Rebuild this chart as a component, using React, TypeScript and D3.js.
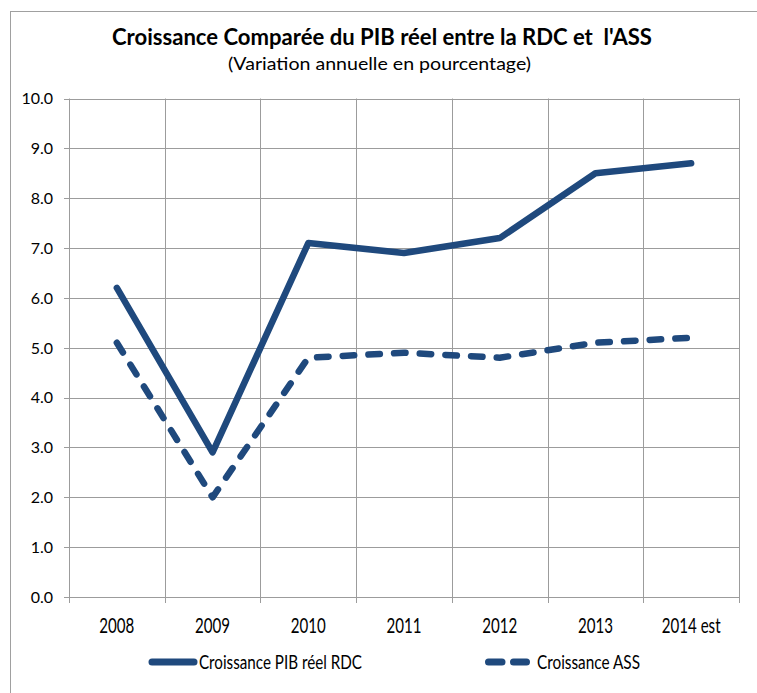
import React from "react";
import * as d3 from "d3";

// Real GDP growth, annual % change
const categories = ["2008", "2009", "2010", "2011", "2012", "2013", "2014 est"];
const rdcGrowth = [6.2, 2.9, 7.1, 6.9, 7.2, 8.5, 8.7];
const assGrowth = [5.1, 2.0, 4.8, 4.9, 4.8, 5.1, 5.2];
const yTicks = [0, 1, 2, 3, 4, 5, 6, 7, 8, 9, 10];
const seriesNames = ["Croissance PIB réel RDC", "Croissance ASS"];

const W = 757;
const H = 693;
const LINE = "#1f497d";
const GRID = "#9c9c9c";
const FONT = "Lato, 'Open Sans', sans-serif";

export default function App() {
  const x = d3.scaleBand<string>().domain(categories).range([69, 739]);
  const y = d3.scaleLinear().domain([0, 10]).range([597, 98.5]);
  const cx = (c: string) => (x(c) as number) + x.bandwidth() / 2;

  const line = d3
    .line<number>()
    .x((_, i) => cx(categories[i]))
    .y((d) => y(d));

  const edges = [...categories.map((c) => x(c) as number), x.range()[1]];

  return (
    <svg
      width={W}
      height={H}
      style={{ position: "absolute", left: 0, top: 0, display: "block", background: "#fff" }}
      fontFamily={FONT}
    >
      <rect x={0} y={0} width={W} height={H} fill="#fff" />
      {/* chart frame */}
      <rect x={10.5} y={11.5} width={780} height={720} fill="none" stroke="#a0a0a0" strokeWidth={1} />

      {/* title */}
      <text x={382} y={45} textAnchor="middle" fontSize={22.5} fontWeight={700} fill="#000" textLength={540} lengthAdjust="spacingAndGlyphs" style={{ whiteSpace: "pre" }}>
        {"Croissance Comparée du PIB réel entre la RDC et \u00A0l'ASS"}
      </text>
      <text x={379.5} y={69.5} textAnchor="middle" fontSize={17.5} fill="#000" textLength={303} lengthAdjust="spacingAndGlyphs">
        (Variation annuelle en pourcentage)
      </text>

      {/* horizontal gridlines + y ticks */}
      {yTicks.map((t) => (
        <g key={"y" + t}>
          <line x1={64} x2={739} y1={Math.round(y(t)) + 0.5} y2={Math.round(y(t)) + 0.5} stroke={GRID} strokeWidth={1} />
          <text x={53} y={y(t) + 5.8} textAnchor="end" fontSize={16} fill="#000">
            {d3.format(".1f")(t)}
          </text>
        </g>
      ))}

      {/* vertical gridlines at category boundaries */}
      {edges.map((e, i) => (
        <line key={"v" + i} x1={Math.round(e) + 0.5} x2={Math.round(e) + 0.5} y1={y(10)} y2={603} stroke={GRID} strokeWidth={1} />
      ))}

      {/* category labels */}
      {categories.map((c) => (
        <text key={c} transform={`translate(${cx(c)},633) scale(0.72,1)`} textAnchor="middle" fontSize={21} fill="#000">
          {c}
        </text>
      ))}

      {/* series */}
      <path d={line(assGrowth) as string} fill="none" stroke={LINE} strokeWidth={6.5} strokeDasharray="11.5,14.2" strokeLinecap="round" strokeLinejoin="round" />
      <path d={line(rdcGrowth) as string} fill="none" stroke={LINE} strokeWidth={6.5} strokeLinecap="round" strokeLinejoin="round" />

      {/* legend */}
      <line x1={152} x2={194} y1={662} y2={662} stroke={LINE} strokeWidth={7} strokeLinecap="round" />
      <text x={199} y={668.5} fontSize={18.5} fill="#000" textLength={163} lengthAdjust="spacingAndGlyphs">
        {seriesNames[0]}
      </text>
      <line x1={488.5} x2={526.5} y1={662} y2={662} stroke={LINE} strokeWidth={7} strokeDasharray="13.5,11.5" strokeLinecap="round" />
      <text x={537} y={668.5} fontSize={18.5} fill="#000" textLength={103} lengthAdjust="spacingAndGlyphs">
        {seriesNames[1]}
      </text>
    </svg>
  );
}
